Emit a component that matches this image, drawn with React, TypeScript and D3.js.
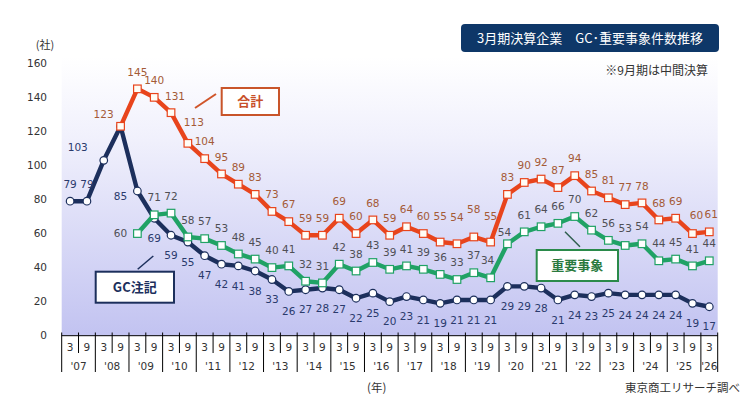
import React from "react";
import * as d3 from "d3";

const periods = [
  "3'07","9'07","3'08","9'08","3'09","9'09","3'10","9'10","3'11","9'11",
  "3'12","9'12","3'13","9'13","3'14","9'14","3'15","9'15","3'16","9'16",
  "3'17","9'17","3'18","9'18","3'19","9'19","3'20","9'20","3'21","9'21",
  "3'22","9'22","3'23","9'23","3'24","9'24","3'25","9'25","3'26",
];
const monthLabels = periods.map((p) => p.split("'")[0]);
const yearLabels = ["'07","'08","'09","'10","'11","'12","'13","'14","'15","'16","'17","'18","'19","'20","'21","'22","'23","'24","'25","'26"];

// GC注記 (from 3'07)
const gcValues = [79,79,103,123,85,69,59,55,47,42,41,38,33,26,27,28,27,22,25,20,23,21,19,21,21,21,29,29,28,21,24,23,25,24,24,24,24,19,17];
// 重要事象 (from 3'09)
const majorStart = 4;
const majorValues = [60,71,72,58,57,53,48,45,40,41,32,31,42,38,43,39,41,39,36,33,37,34,54,61,64,66,70,62,56,53,54,44,45,41,44];
// 合計 (from 9'08)
const totalStart = 3;
const totalValues = [123,145,140,131,113,104,95,89,83,73,67,59,59,69,60,68,59,64,60,55,54,58,55,83,90,92,87,94,85,81,77,78,68,69,60,61];

const yTicks = [0,20,40,60,80,100,120,140,160];

type Pt = { i: number; v: number };

const W = 754, H = 408;
const L = 61.7, R = 717.7, B = 335.7, T = 63.3;

const x = d3.scaleBand<number>().domain(periods.map((_, i) => i)).range([L, R]).padding(0);
const y = d3.scaleLinear().domain([0, 160]).range([B, T]);
const cx = (i: number) => (x(i) as number) + x.bandwidth() / 2;

const gcPts: Pt[] = gcValues.map((v, i) => ({ i, v }));
const majorPts: Pt[] = majorValues.map((v, k) => ({ i: k + majorStart, v }));
const totalPts: Pt[] = totalValues.map((v, k) => ({ i: k + totalStart, v }));

const line = d3.line<Pt>().x((d) => cx(d.i)).y((d) => y(d.v));

const NUM_FONT = "'DejaVu Sans', Verdana, sans-serif";
const JP_FONT = "'Noto Sans CJK JP', 'DejaVu Sans', sans-serif";

const ORANGE = "#e8441c";
const NAVY = "#1c2f5c";
const GREEN = "#20a265";

function totalOffset(i: number): [number, number] {
  if (i === 3) return [-17, -12];
  if (i === 6) return [4, -16];
  if (i === 7) return [6, -21];
  if (i === 22 || i === 23 || i === 25) return [0, -26];
  if (i === 24) return [0, -28];
  if (i === 37) return [4, -18];
  if (i === 38) return [2, -18];
  return [0, -17];
}
function gcOffset(i: number): [number, number] | null {
  if (i === 0 || i === 1) return [0, -17];
  if (i === 2) return [-26, -13];
  if (i === 3) return null;
  if (i === 4) return [-17, 5];
  return [0, 20];
}
function majorOffset(i: number): [number, number] {
  if (i === 4) return [-17, 0];
  if (i === 26) return [-3, -11];
  if (i === 25) return [-3, -17];
  return [0, -17];
}

export default function App() {
  const ticks = d3.range(0, periods.length + 1);
  const sq = 7.6;
  return (
    <svg width={W} height={H} style={{ position: "absolute", left: 0, top: 0, background: "#fff" }}>
      <defs>
        <linearGradient id="bg" x1="0" y1="0" x2="0" y2="1">
          <stop offset="0%" stopColor="#ffffff" />
          <stop offset="30%" stopColor="#f0f0fc" />
          <stop offset="100%" stopColor="#c2c3f1" />
        </linearGradient>
      </defs>
      <rect x={L} y={T - 6} width={R - L} height={B - T + 6} fill="url(#bg)" />

      {/* y axis labels */}
      {yTicks.map((t) => (
        <text key={t} x={47} y={y(t)} dy="0.35em" textAnchor="end" fontFamily={NUM_FONT} fontSize={10.5} fill="#333">
          {t}
        </text>
      ))}
      <text x={45} y={45} dy="0.35em" textAnchor="middle" fontFamily={JP_FONT} fontSize={11} fill="#333">(社)</text>

      {/* x axis */}
      <line x1={L} x2={R} y1={B} y2={B} stroke="#000" strokeWidth={1} />
      {ticks.map((k) => {
        const xx = k < periods.length ? (x(k) as number) : R;
        const isYear = k % 2 === 0 || k === periods.length;
        return (
          <line key={k} x1={xx} x2={xx} y1={332.5} y2={isYear ? 372 : 353} stroke="#000" strokeWidth={1} />
        );
      })}
      {monthLabels.map((m, i) => (
        <text key={i} x={cx(i)} y={347} dy="0.35em" textAnchor="middle" fontFamily={NUM_FONT} fontSize={10.5} fill="#333">
          {m}
        </text>
      ))}
      {yearLabels.map((yl, j) => {
        const i0 = j * 2;
        const i1 = Math.min(i0 + 1, periods.length - 1);
        const xc = ((x(i0) as number) + (x(i1) as number) + x.bandwidth()) / 2;
        return (
          <text key={j} x={xc} y={366} dy="0.35em" textAnchor="middle" fontFamily={NUM_FONT} fontSize={10.5} fill="#333">
            {yl}
          </text>
        );
      })}
      <text x={367} y={388} dy="0.35em" fontFamily={JP_FONT} fontSize={11.5} fill="#333">(年)</text>
      <text x={740} y={388} dy="0.35em" textAnchor="end" fontFamily={JP_FONT} fontSize={11.5} fill="#333">東京商工リサーチ調べ</text>

      {/* GC line */}
      <path d={line(gcPts) || ""} fill="none" stroke={NAVY} strokeWidth={4.4} strokeLinejoin="round" />
      {gcPts.map((d) => (
        <circle key={d.i} cx={cx(d.i)} cy={y(d.v)} r={3.8} fill="#fff" stroke={NAVY} strokeWidth={1.2} />
      ))}
      {/* major line */}
      <path d={line(majorPts) || ""} fill="none" stroke={GREEN} strokeWidth={4.4} strokeLinejoin="round" />
      {majorPts.map((d) => (
        <rect key={d.i} x={cx(d.i) - sq / 2} y={y(d.v) - sq / 2} width={sq} height={sq} fill="#fff" stroke={GREEN} strokeWidth={1.2} />
      ))}
      {/* total line */}
      <path d={line(totalPts) || ""} fill="none" stroke={ORANGE} strokeWidth={4.4} strokeLinejoin="round" />
      {totalPts.map((d) => (
        <rect key={d.i} x={cx(d.i) - sq / 2} y={y(d.v) - sq / 2} width={sq} height={sq} fill="#fffdf6" stroke={ORANGE} strokeWidth={1.2} />
      ))}

      {/* labels */}
      {gcPts.map((d) => {
        const o = gcOffset(d.i);
        if (!o) return null;
        return (
          <text key={"g" + d.i} x={cx(d.i) + o[0]} y={y(d.v) + o[1]} dy="0.35em" textAnchor="middle" fontFamily={NUM_FONT} fontSize={10.5} fill="#2a3a6c">
            {d.v}
          </text>
        );
      })}
      {majorPts.map((d) => {
        const o = majorOffset(d.i);
        return (
          <text key={"m" + d.i} x={cx(d.i) + o[0]} y={y(d.v) + o[1]} dy="0.35em" textAnchor="middle" fontFamily={NUM_FONT} fontSize={10.5} fill="#4f4f55">
            {d.v}
          </text>
        );
      })}
      {totalPts.map((d) => {
        const o = totalOffset(d.i);
        return (
          <text key={"t" + d.i} x={cx(d.i) + o[0]} y={y(d.v) + o[1]} dy="0.35em" textAnchor="middle" fontFamily={NUM_FONT} fontSize={10.5} fill="#a45a36">
            {d.v}
          </text>
        );
      })}

      {/* callouts */}
      <line x1={195} y1={108} x2={216} y2={94} stroke="#d0552a" strokeWidth={2} />
      <rect x={221.7} y={88} width={57.3} height={27} fill="#fff" stroke="#c9552a" strokeWidth={2} />
      <text x={250.3} y={101.5} dy="0.35em" textAnchor="middle" fontFamily={JP_FONT} fontSize={13} fontWeight="bold" fill="#c8502a">合計</text>

      <line x1={565} y1={231.7} x2={580} y2={246.7} stroke="#2f5f4f" strokeWidth={1.5} />
      <rect x={536.7} y={250} width={81.3} height={31} fill="#fff" stroke="#2a8a4a" strokeWidth={2} />
      <text x={577.3} y={265.5} dy="0.35em" textAnchor="middle" fontFamily={JP_FONT} fontSize={13} fontWeight="bold" fill="#2a7a3e">重要事象</text>

      <line x1={137.7} y1={269.3} x2={153.3} y2={256} stroke={NAVY} strokeWidth={1.5} />
      <rect x={95.7} y={271.7} width={78.3} height={31} fill="#fff" stroke={NAVY} strokeWidth={2} />
      <text x={134.8} y={287.2} dy="0.35em" textAnchor="middle" fontFamily={JP_FONT} fontSize={13} fontWeight="bold" fill={NAVY}>GC注記</text>

      {/* title */}
      <rect x={461} y={24} width={258} height={28} rx={4} fill="#0e3768" />
      <text x={590} y={38} dy="0.35em" textAnchor="middle" fontFamily={JP_FONT} fontSize={13} fill="#fff">3月期決算企業　GC･重要事象件数推移</text>
      <text x={708} y={71} dy="0.35em" textAnchor="end" fontFamily={JP_FONT} fontSize={12} fill="#333">※9月期は中間決算</text>
    </svg>
  );
}
